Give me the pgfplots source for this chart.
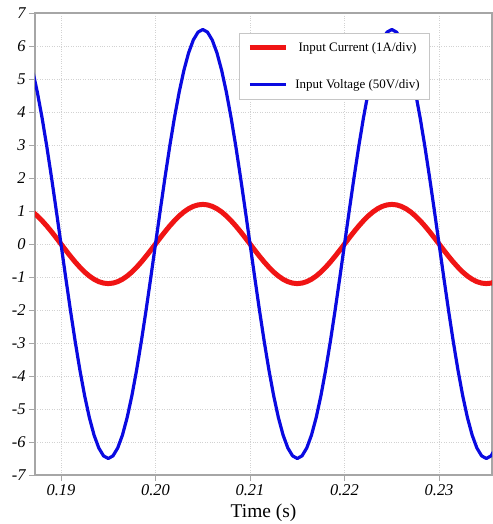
\documentclass[border=0pt]{standalone}
\usepackage{fontspec}
\setmainfont{Liberation Serif}
\usepackage{pgfplots}
\pgfplotsset{compat=1.18}
\definecolor{cred}{RGB}{240,20,20}
\definecolor{cblue}{RGB}{10,10,225}
\begin{document}
\begin{tikzpicture}
\begin{axis}[
  scale only axis,
  width=457bp, height=462bp,
  xmin=0.18725, xmax=0.2356,
  ymin=-7, ymax=7,
  xtick={0.19,0.20,0.21,0.22,0.23},
  xticklabels={0.19,0.20,0.21,0.22,0.23},
  ytick={-7,-6,-5,-4,-3,-2,-1,0,1,2,3,4,5,6,7},
  yticklabels={-7,-6,-5,-4,-3,-2,-1,0,1,2,3,4,5,6,7},
  /pgf/number format/assume math mode=true,
  ticklabel style={font=\fontsize{16.5}{18}\selectfont\itshape},
  tick align=outside,
  xtick pos=bottom, ytick pos=left,
  major tick length=6bp,
  tick style={gray!70, line width=0.9pt},
  axis line style={gray!70, line width=1.2pt},
  grid=major,
  major grid style={gray!35, dotted, line width=0.6pt},
  xlabel={Time (s)},
  xlabel style={font=\fontsize{19.5}{21}\selectfont, inner sep=1bp, yshift=-4bp},
  legend style={at={(0.864,0.957)}, anchor=north east, draw=gray!45, fill=white,
    font=\fontsize{13}{15}\selectfont, row sep=23bp, inner xsep=8bp, inner ysep=7bp},
  legend image code/.code={\draw[#1] (0bp,0bp) -- (36bp,0bp); \path (41bp,0bp);},
  legend cell align=center,
  clip=true,
]
\addplot[cred, line width=5bp, line join=round] coordinates {
(0.1870,0.971)(0.1875,0.849)(0.1880,0.705)(0.1885,0.545)(0.1890,0.371)(0.1895,0.188)(0.1900,0)
(0.1905,-0.188)(0.1910,-0.371)(0.1915,-0.545)(0.1920,-0.705)(0.1925,-0.849)(0.1930,-0.971)(0.1935,-1.069)(0.1940,-1.141)(0.1945,-1.185)(0.1950,-1.2)
(0.1955,-1.185)(0.1960,-1.141)(0.1965,-1.069)(0.1970,-0.971)(0.1975,-0.849)(0.1980,-0.705)(0.1985,-0.545)(0.1990,-0.371)(0.1995,-0.188)(0.2000,0)
(0.2005,0.188)(0.2010,0.371)(0.2015,0.545)(0.2020,0.705)(0.2025,0.849)(0.2030,0.971)(0.2035,1.069)(0.2040,1.141)(0.2045,1.185)(0.2050,1.2)
(0.2055,1.185)(0.2060,1.141)(0.2065,1.069)(0.2070,0.971)(0.2075,0.849)(0.2080,0.705)(0.2085,0.545)(0.2090,0.371)(0.2095,0.188)(0.2100,0)
(0.2105,-0.188)(0.2110,-0.371)(0.2115,-0.545)(0.2120,-0.705)(0.2125,-0.849)(0.2130,-0.971)(0.2135,-1.069)(0.2140,-1.141)(0.2145,-1.185)(0.2150,-1.2)
(0.2155,-1.185)(0.2160,-1.141)(0.2165,-1.069)(0.2170,-0.971)(0.2175,-0.849)(0.2180,-0.705)(0.2185,-0.545)(0.2190,-0.371)(0.2195,-0.188)(0.2200,0)
(0.2205,0.188)(0.2210,0.371)(0.2215,0.545)(0.2220,0.705)(0.2225,0.849)(0.2230,0.971)(0.2235,1.069)(0.2240,1.141)(0.2245,1.185)(0.2250,1.2)
(0.2255,1.185)(0.2260,1.141)(0.2265,1.069)(0.2270,0.971)(0.2275,0.849)(0.2280,0.705)(0.2285,0.545)(0.2290,0.371)(0.2295,0.188)(0.2300,0)
(0.2305,-0.188)(0.2310,-0.371)(0.2315,-0.545)(0.2320,-0.705)(0.2325,-0.849)(0.2330,-0.971)(0.2335,-1.069)(0.2340,-1.141)(0.2345,-1.185)(0.2350,-1.2)
(0.2355,-1.185)(0.2360,-1.141)
};
\addlegendentry{Input Current (1A/div)}
\addplot[cblue, line width=3.2bp, line join=round] coordinates {
(0.1870,5.259)(0.1875,4.596)(0.1880,3.821)(0.1885,2.951)(0.1890,2.009)(0.1895,1.017)(0.1900,0)
(0.1905,-1.017)(0.1910,-2.009)(0.1915,-2.951)(0.1920,-3.821)(0.1925,-4.596)(0.1930,-5.259)(0.1935,-5.792)(0.1940,-6.182)(0.1945,-6.420)(0.1950,-6.5)
(0.1955,-6.420)(0.1960,-6.182)(0.1965,-5.792)(0.1970,-5.259)(0.1975,-4.596)(0.1980,-3.821)(0.1985,-2.951)(0.1990,-2.009)(0.1995,-1.017)(0.2000,0)
(0.2005,1.017)(0.2010,2.009)(0.2015,2.951)(0.2020,3.821)(0.2025,4.596)(0.2030,5.259)(0.2035,5.792)(0.2040,6.182)(0.2045,6.420)(0.2050,6.5)
(0.2055,6.420)(0.2060,6.182)(0.2065,5.792)(0.2070,5.259)(0.2075,4.596)(0.2080,3.821)(0.2085,2.951)(0.2090,2.009)(0.2095,1.017)(0.2100,0)
(0.2105,-1.017)(0.2110,-2.009)(0.2115,-2.951)(0.2120,-3.821)(0.2125,-4.596)(0.2130,-5.259)(0.2135,-5.792)(0.2140,-6.182)(0.2145,-6.420)(0.2150,-6.5)
(0.2155,-6.420)(0.2160,-6.182)(0.2165,-5.792)(0.2170,-5.259)(0.2175,-4.596)(0.2180,-3.821)(0.2185,-2.951)(0.2190,-2.009)(0.2195,-1.017)(0.2200,0)
(0.2205,1.017)(0.2210,2.009)(0.2215,2.951)(0.2220,3.821)(0.2225,4.596)(0.2230,5.259)(0.2235,5.792)(0.2240,6.182)(0.2245,6.420)(0.2250,6.5)
(0.2255,6.420)(0.2260,6.182)(0.2265,5.792)(0.2270,5.259)(0.2275,4.596)(0.2280,3.821)(0.2285,2.951)(0.2290,2.009)(0.2295,1.017)(0.2300,0)
(0.2305,-1.017)(0.2310,-2.009)(0.2315,-2.951)(0.2320,-3.821)(0.2325,-4.596)(0.2330,-5.259)(0.2335,-5.792)(0.2340,-6.182)(0.2345,-6.420)(0.2350,-6.5)
(0.2355,-6.420)(0.2360,-6.182)
};
\addlegendentry{Input Voltage (50V/div)}
\end{axis}
\path (current axis.south west) ++(-35bp,-49bp);
\path (current axis.north east) ++(0bp,13bp);
\end{tikzpicture}
\end{document}
